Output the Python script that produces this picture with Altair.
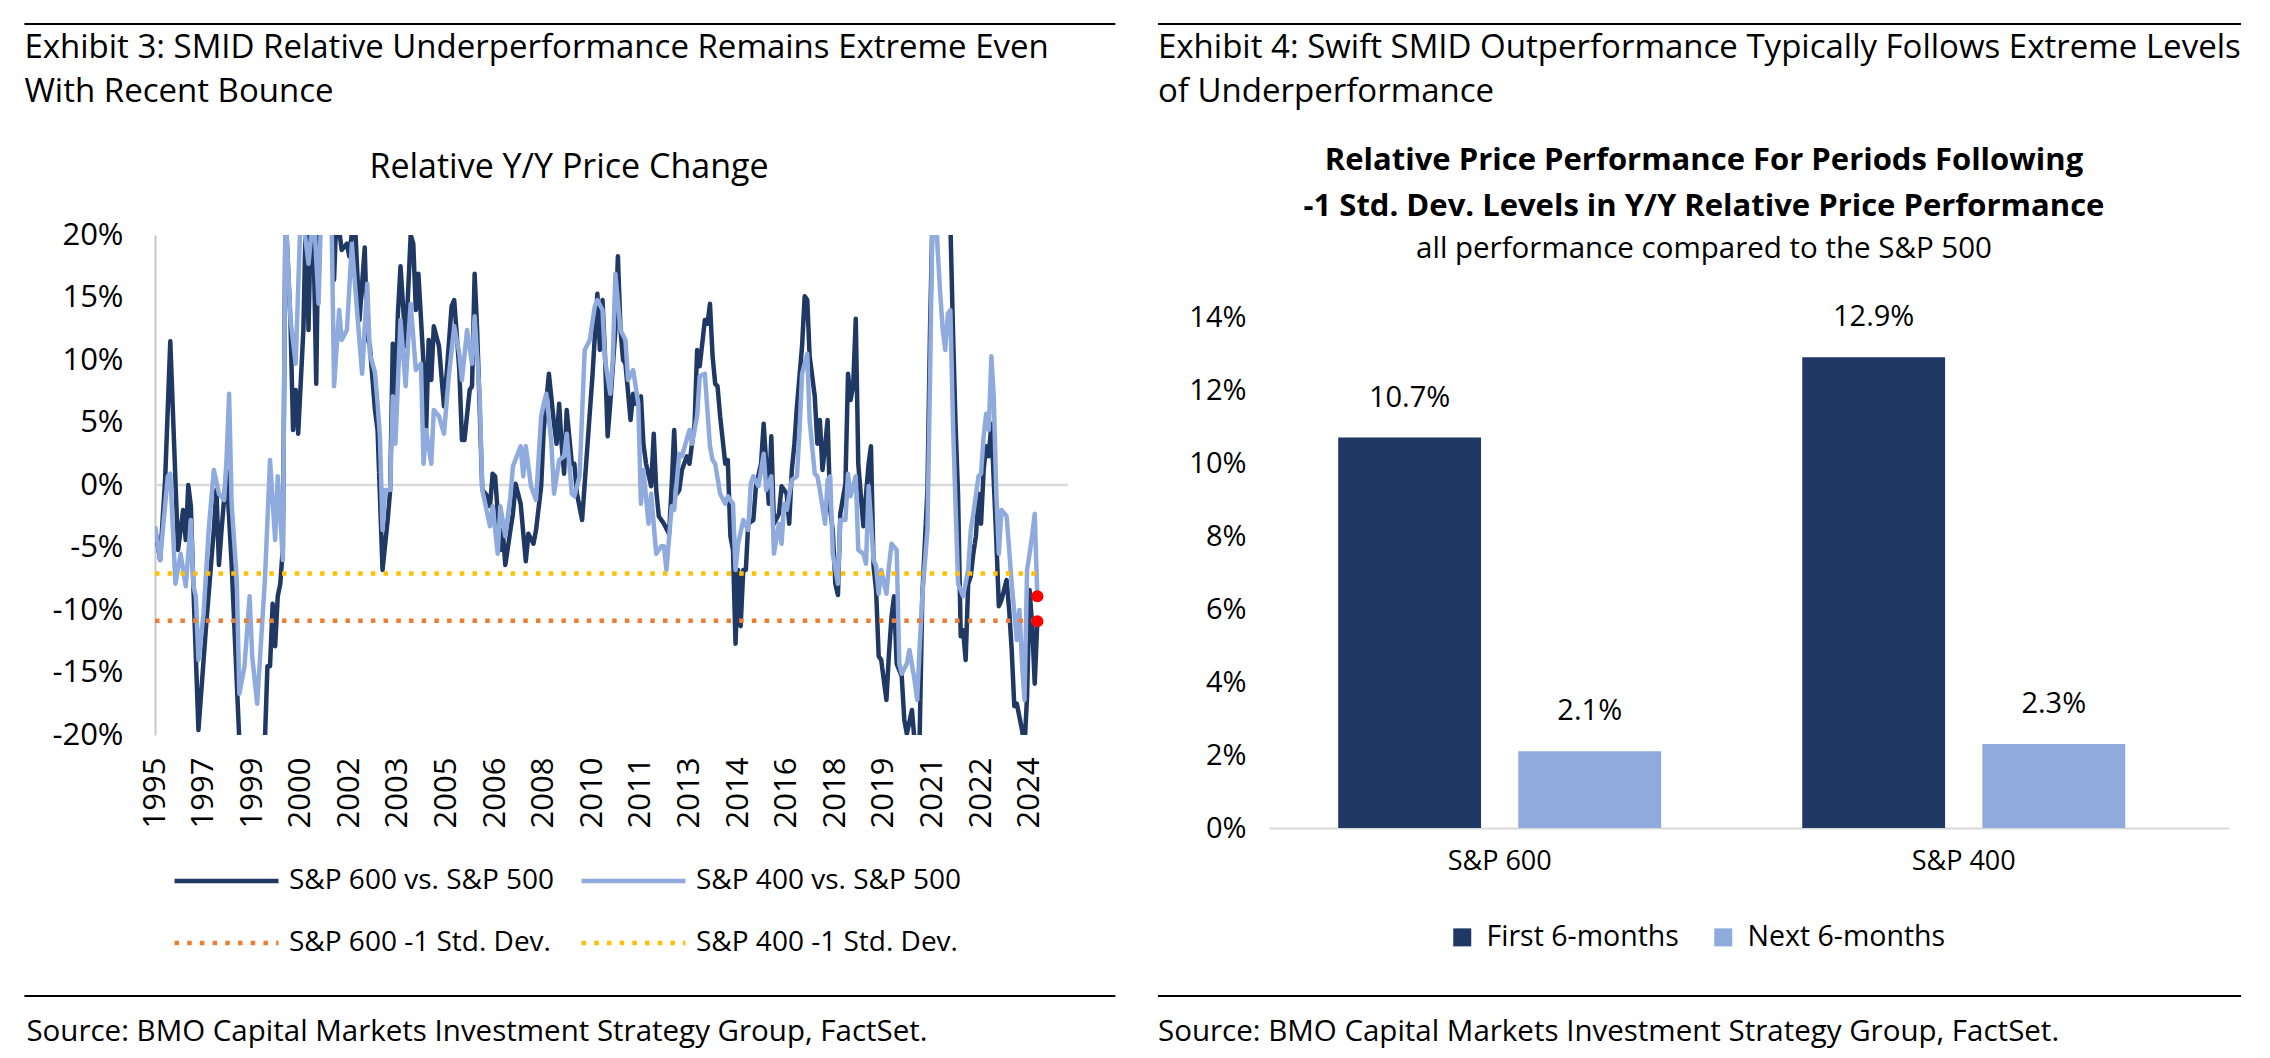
import altair as alt
import pandas as pd

FONT = "Open Sans"

# ---------------- Exhibit 3 data (relative Y/Y price change, %) ----------------
SERIES_NAMES = ["S&P 600 vs. S&P 500", "S&P 400 vs. S&P 500",
                "S&P 600 -1 Std. Dev.", "S&P 400 -1 Std. Dev."]
SERIES_COLORS = ["#1F3864", "#8FAADC", "#ED7D31", "#FFC000"]

S600 = [
    ("1995-11", -3.5), ("1996-01", -6.0), ("1996-03", 0.5), ("1996-05", 11.5),
    ("1996-08", -5.2), ("1996-10", -2.0), ("1996-11", -4.4), ("1996-12", 0.0),
    ("1997-01", -1.7), ("1997-02", -8.4), ("1997-04", -19.6), ("1997-07", -11.3),
    ("1997-10", -3.6), ("1997-11", -0.4), ("1997-12", -6.4), ("1998-01", -3.6),
    ("1998-03", 1.2), ("1998-05", -6.3), ("1998-08", -20.5), ("1998-11", -24.0),
    ("1999-03", -24.0), ("1999-06", -20.5), ("1999-07", -14.5), ("1999-08", -14.5),
    ("1999-09", -9.5), ("1999-10", -12.9), ("1999-11", -8.9), ("1999-12", -7.9),
    ("2000-01", -5.0), ("2000-02", 22.0), ("2000-04", 12.9), ("2000-05", 4.4),
    ("2000-06", 7.6), ("2000-07", 4.1), ("2000-09", 12.4), ("2000-10", 22.0),
    ("2000-11", 12.4), ("2000-12", 22.0), ("2001-01", 19.3), ("2001-02", 8.1),
    ("2001-03", 22.0), ("2001-08", 22.0), ("2001-09", 16.4), ("2001-10", 22.0),
    ("2001-12", 18.8), ("2002-02", 19.3), ("2002-03", 18.3), ("2002-05", 22.0),
    ("2002-07", 13.2), ("2002-09", 19.0), ("2002-10", 11.9), ("2002-11", 11.1),
    ("2003-01", 6.0), ("2003-02", 4.4), ("2003-03", -0.9), ("2003-04", -6.8),
    ("2003-06", -2.8), ("2003-07", -0.4), ("2003-08", 11.3), ("2003-09", 7.1),
    ("2003-10", 13.7), ("2003-11", 17.5), ("2004-01", 11.1), ("2004-03", 20.0),
    ("2004-04", 19.3), ("2004-05", 14.0), ("2004-06", 16.9), ("2004-08", 9.7),
    ("2004-09", 4.4), ("2004-10", 11.6), ("2004-11", 8.4), ("2004-12", 12.7),
    ("2005-02", 11.1), ("2005-04", 6.3), ("2005-05", 8.7), ("2005-07", 14.3),
    ("2005-08", 14.8), ("2005-10", 9.2), ("2005-11", 3.6), ("2005-12", 3.6),
    ("2006-02", 7.6), ("2006-03", 7.9), ("2006-04", 16.9), ("2006-05", 12.4),
    ("2006-07", -0.4), ("2006-09", -0.9), ("2006-10", -1.7), ("2006-11", 0.9),
    ("2006-12", 0.7), ("2007-02", -5.2), ("2007-03", -3.6), ("2007-04", -6.4),
    ("2007-06", -3.6), ("2007-07", -2.3), ("2007-08", 0.1), ("2007-10", -1.5),
    ("2007-12", -6.1), ("2008-01", -3.9), ("2008-03", -4.7), ("2008-04", -3.6),
    ("2008-06", -0.1), ("2008-07", 4.4), ("2008-09", 8.9), ("2008-11", 4.9),
    ("2008-12", 3.3), ("2009-01", 6.5), ("2009-02", 3.1), ("2009-03", 0.9),
    ("2009-04", 6.0), ("2009-06", 1.7), ("2009-07", 1.7), ("2009-08", -0.7),
    ("2009-10", -2.8), ("2009-11", 0.1), ("2010-02", 8.7), ("2010-04", 15.3),
    ("2010-05", 10.8), ("2010-06", 14.8), ("2010-07", 10.3), ("2010-08", 3.9),
    ("2010-09", 6.5), ("2010-11", 12.4), ("2010-12", 18.3), ("2011-01", 12.4),
    ("2011-02", 10.0), ("2011-03", 9.7), ("2011-05", 5.2), ("2011-06", 7.3),
    ("2011-07", 6.5), ("2011-09", 7.1), ("2011-10", 3.3), ("2011-11", 1.7),
    ("2012-01", -0.1), ("2012-02", 4.1), ("2012-03", -0.4), ("2012-04", -2.5),
    ("2012-06", -3.1), ("2012-08", -3.9), ("2012-09", -0.1), ("2012-10", 4.4),
    ("2012-11", -0.7), ("2012-12", -0.4), ("2013-01", 1.2), ("2013-03", 2.3),
    ("2013-04", 1.7), ("2013-06", 4.9), ("2013-07", 10.8), ("2013-08", 9.5),
    ("2013-10", 13.2), ("2013-11", 12.9), ("2013-12", 14.5), ("2014-01", 10.3),
    ("2014-02", 8.1), ("2014-03", 7.9), ("2014-04", 5.5), ("2014-06", 1.7),
    ("2014-07", 2.0), ("2014-08", -4.1), ("2014-09", -5.2), ("2014-10", -12.7),
    ("2014-11", -6.8), ("2014-12", -11.3), ("2015-01", -6.8), ("2015-02", -6.8),
    ("2015-03", -3.1), ("2015-05", -2.8), ("2015-06", -0.1), ("2015-08", 1.7),
    ("2015-09", 4.9), ("2015-11", -1.5), ("2015-12", 3.9), ("2016-01", -3.1),
    ("2016-03", -2.3), ("2016-04", -0.1), ("2016-06", -0.7), ("2016-07", -3.1),
    ("2016-08", 1.2), ("2016-09", 3.3), ("2016-10", 6.3), ("2016-12", 11.1),
    ("2017-01", 15.1), ("2017-02", 14.8), ("2017-03", 10.3), ("2017-05", 7.1),
    ("2017-06", 3.3), ("2017-07", 5.2), ("2017-08", 1.2), ("2017-09", 3.1),
    ("2017-10", 5.2), ("2017-11", -2.0), ("2017-12", -3.6), ("2018-01", -7.9),
    ("2018-02", -8.8), ("2018-03", -2.3), ("2018-05", 0.1), ("2018-06", 8.9),
    ("2018-07", 6.8), ("2018-08", 7.9), ("2018-09", 13.3), ("2018-10", 1.7),
    ("2018-11", -0.9), ("2018-12", -3.3), ("2019-02", 1.7), ("2019-03", 3.1),
    ("2019-04", -6.5), ("2019-05", -8.4), ("2019-06", -13.7), ("2019-07", -14.0),
    ("2019-09", -17.2), ("2019-10", -13.5), ("2019-11", -10.5), ("2019-12", -8.9),
    ("2020-01", -14.3), ("2020-03", -15.3), ("2020-04", -18.8), ("2020-05", -19.9),
    ("2020-07", -18.0), ("2020-08", -20.5), ("2020-09", -22.0), ("2020-10", -20.0),
    ("2020-11", -8.9), ("2021-01", -0.4), ("2021-02", 12.4), ("2021-03", 21.0),
    ("2021-05", 30.0), ("2021-09", 30.0), ("2021-10", 21.0), ("2021-11", 12.4),
    ("2021-12", 5.0), ("2022-01", -0.9), ("2022-02", -12.1), ("2022-03", -11.6),
    ("2022-04", -14.0), ("2022-05", -7.9), ("2022-06", -7.3), ("2022-07", -5.5),
    ("2022-08", -4.1), ("2022-09", -0.7), ("2022-10", -3.1), ("2022-11", 1.2),
    ("2022-12", 3.1), ("2023-01", 2.3), ("2023-02", 4.9), ("2023-03", 0.4),
    ("2023-04", -4.4), ("2023-05", -9.7), ("2023-06", -9.2), ("2023-08", -7.6),
    ("2023-09", -10.0), ("2023-10", -13.2), ("2023-11", -17.7), ("2023-12", -17.5),
    ("2024-02", -19.6), ("2024-03", -21.0), ("2024-04", -16.9), ("2024-05", -8.4),
    ("2024-06", -11.3), ("2024-07", -15.9), ("2024-08", -10.9),
]

S400 = [
    ("1995-11", -3.3), ("1996-01", -6.0), ("1996-04", 0.7), ("1996-05", 0.9),
    ("1996-07", -7.9), ("1996-09", -5.5), ("1996-11", -8.1), ("1997-01", -2.8),
    ("1997-02", -8.1), ("1997-03", -8.9), ("1997-04", -14.0), ("1997-06", -10.3),
    ("1997-08", -3.6), ("1997-10", 1.2), ("1997-12", -0.7), ("1998-02", -1.2),
    ("1998-03", 2.0), ("1998-04", 7.3), ("1998-05", -1.5), ("1998-07", -7.6),
    ("1998-08", -16.7), ("1998-10", -14.5), ("1998-12", -8.9), ("1999-01", -13.7),
    ("1999-03", -17.5), ("1999-06", -7.6), ("1999-08", 2.0), ("1999-10", -4.4),
    ("1999-11", 0.7), ("2000-01", -6.0), ("2000-02", 22.0), ("2000-04", 13.2),
    ("2000-06", 9.7), ("2000-08", 22.0), ("2000-09", 21.0), ("2000-11", 17.7),
    ("2001-01", 22.0), ("2001-03", 14.5), ("2001-04", 22.0), ("2001-08", 22.0),
    ("2001-09", 7.9), ("2001-11", 14.0), ("2001-12", 11.6), ("2002-02", 12.4),
    ("2002-04", 19.3), ("2002-06", 14.0), ("2002-08", 8.9), ("2002-10", 16.1),
    ("2002-11", 10.5), ("2003-01", 9.0), ("2003-02", 6.5), ("2003-03", 3.9),
    ("2003-04", -3.6), ("2003-05", -0.4), ("2003-07", -0.4), ("2003-08", 7.1),
    ("2003-09", 3.3), ("2003-11", 13.2), ("2004-01", 7.9), ("2004-02", 11.6),
    ("2004-03", 14.5), ("2004-05", 9.2), ("2004-07", 9.7), ("2004-08", 1.7),
    ("2004-09", 4.4), ("2004-11", 1.7), ("2004-12", 6.0), ("2005-02", 5.5),
    ("2005-04", 4.1), ("2005-06", 8.9), ("2005-08", 12.7), ("2005-10", 10.5),
    ("2005-11", 8.4), ("2006-01", 12.4), ("2006-03", 9.7), ("2006-04", 13.5),
    ("2006-06", 7.1), ("2006-07", -0.4), ("2006-10", -3.3), ("2006-11", -1.7),
    ("2007-01", -5.5), ("2007-02", -1.7), ("2007-04", -4.1), ("2007-06", -0.9),
    ("2007-07", 1.5), ("2007-10", 3.1), ("2007-11", 0.7), ("2007-12", 3.1),
    ("2008-02", -0.1), ("2008-04", -1.2), ("2008-06", 5.5), ("2008-07", 6.5),
    ("2008-08", 7.3), ("2008-10", 3.3), ("2008-11", -0.7), ("2009-01", 2.0),
    ("2009-03", 2.3), ("2009-04", 4.1), ("2009-06", -0.7), ("2009-07", -0.9),
    ("2009-09", 0.7), ("2009-11", 10.8), ("2010-01", 11.6), ("2010-03", 14.3),
    ("2010-04", 14.8), ("2010-06", 14.0), ("2010-07", 10.0), ("2010-09", 7.3),
    ("2010-10", 10.0), ("2010-11", 16.9), ("2011-01", 12.4), ("2011-03", 11.6),
    ("2011-04", 8.4), ("2011-06", 9.2), ("2011-08", 6.5), ("2011-09", -1.5),
    ("2011-10", 1.2), ("2011-12", -3.1), ("2012-01", -0.7), ("2012-03", -5.5),
    ("2012-05", -4.9), ("2012-06", -4.9), ("2012-07", -6.8), ("2012-09", -1.7),
    ("2012-10", -2.0), ("2012-12", 2.5), ("2013-01", 2.3), ("2013-04", 4.4),
    ("2013-05", 3.3), ("2013-07", 5.5), ("2013-08", 8.7), ("2013-10", 8.9),
    ("2013-12", 3.1), ("2014-01", 2.0), ("2014-02", 1.7), ("2014-04", -0.7),
    ("2014-06", -1.5), ("2014-07", -0.9), ("2014-09", -1.5), ("2014-10", -6.8),
    ("2014-11", -4.7), ("2015-01", -2.8), ("2015-03", -3.6), ("2015-04", 0.1),
    ("2015-05", 0.7), ("2015-07", -0.1), ("2015-09", 2.5), ("2015-10", -0.4),
    ("2015-12", 0.7), ("2016-01", -5.5), ("2016-03", -3.1), ("2016-04", -4.7),
    ("2016-05", -1.5), ("2016-06", -2.0), ("2016-08", 0.4), ("2016-10", 0.7),
    ("2016-11", 4.4), ("2016-12", 8.9), ("2017-02", 10.5), ("2017-03", 5.2),
    ("2017-05", 0.9), ("2017-06", 0.7), ("2017-07", -0.4), ("2017-09", -3.1),
    ("2017-10", 0.4), ("2017-11", 0.7), ("2017-12", -5.5), ("2018-02", -7.9),
    ("2018-03", -2.8), ("2018-05", -2.8), ("2018-06", 0.9), ("2018-07", -0.9),
    ("2018-09", 0.7), ("2018-10", -5.2), ("2018-12", -5.5), ("2019-01", -6.3),
    ("2019-02", -0.1), ("2019-04", -6.0), ("2019-05", -6.5), ("2019-06", -8.7),
    ("2019-07", -6.8), ("2019-09", -8.7), ("2019-10", -6.5), ("2019-11", -4.7),
    ("2020-01", -5.2), ("2020-02", -14.3), ("2020-03", -15.1), ("2020-05", -14.3),
    ("2020-06", -13.2), ("2020-08", -15.6), ("2020-09", -17.2), ("2020-10", -12.9),
    ("2020-11", -8.9), ("2021-01", -3.6), ("2021-02", 8.4), ("2021-03", 21.0),
    ("2021-04", 25.0), ("2021-05", 19.0), ("2021-06", 15.5), ("2021-07", 12.5),
    ("2021-08", 10.8), ("2021-09", 13.7), ("2021-10", 14.0), ("2021-11", 5.0),
    ("2021-12", -1.5), ("2022-01", -7.9), ("2022-02", -8.4), ("2022-03", -8.9),
    ("2022-05", -6.8), ("2022-06", -3.6), ("2022-07", -2.3), ("2022-09", 0.7),
    ("2022-10", 0.9), ("2022-11", 3.9), ("2022-12", 5.7), ("2023-01", 4.4),
    ("2023-02", 10.3), ("2023-03", 7.1), ("2023-04", -0.7), ("2023-05", -5.5),
    ("2023-06", -2.0), ("2023-08", -2.5), ("2023-09", -5.2), ("2023-10", -7.9),
    ("2023-12", -12.4), ("2024-01", -10.0), ("2024-02", -14.3), ("2024-03", -17.2),
    ("2024-04", -6.8), ("2024-05", -5.5), ("2024-06", -4.0), ("2024-07", -2.3),
    ("2024-08", -8.9),
]

STD_DEV_600 = -10.85
STD_DEV_400 = -7.07

Y_TICKS = [-20, -15, -10, -5, 0, 5, 10, 15, 20]
X_TICK_MONTHS = [(1995, 11), (1997, 6), (1999, 1), (2000, 8), (2002, 3), (2003, 10),
                 (2005, 5), (2006, 12), (2008, 7), (2010, 2), (2011, 9), (2013, 4),
                 (2014, 11), (2016, 6), (2018, 1), (2019, 8), (2021, 3), (2022, 10),
                 (2024, 5)]
X_AXIS_START = (1995, 11)
X_AXIS_END = (2025, 8)

# ---------------- Exhibit 4 data ----------------
BAR_CATEGORIES = ["S&P 600", "S&P 400"]
BAR_PERIODS = ["First 6-months", "Next 6-months"]
BAR_COLORS = ["#1F3864", "#8FAADC"]
BAR_FIRST = [10.7, 12.9]
BAR_NEXT = [2.1, 2.3]
BAR_TICKS = [0, 2, 4, 6, 8, 10, 12, 14]

# ---------------- texts ----------------
EX3_TITLE = ["Exhibit 3: SMID Relative Underperformance Remains Extreme Even",
             "With Recent Bounce"]
EX3_CHART_TITLE = "Relative Y/Y Price Change"
EX4_TITLE = ["Exhibit 4: Swift SMID Outperformance Typically Follows Extreme Levels",
             "of Underperformance"]
EX4_CHART_TITLE = ["Relative Price Performance For Periods Following",
                   "-1 Std. Dev. Levels in Y/Y Relative Price Performance"]
EX4_SUBTITLE = "all performance compared to the S&P 500"
SOURCE = "Source: BMO Capital Markets Investment Strategy Group, FactSet."

# ================= build tables =================
def to_frame(pairs, name):
    return pd.DataFrame({"date": [d + "-15" for d, _ in pairs],
                         "value": [v for _, v in pairs],
                         "series": name})

df600 = to_frame(S600, SERIES_NAMES[0])
df400 = to_frame(S400, SERIES_NAMES[1])
df_std = pd.DataFrame({
    "series": [SERIES_NAMES[2], SERIES_NAMES[3]],
    "value": [STD_DEV_600, STD_DEV_400],
    "start": [S600[0][0] + "-15", S400[0][0] + "-15"],
    "end": [S600[-1][0] + "-15", S400[-1][0] + "-15"],
})
df_last = pd.concat([df600.tail(1), df400.tail(1)])
df_zero = pd.DataFrame({"value": [0]})

LW, LH = 913, 500     # left plot area
RW, RH = 960, 593     # right plot area
TEXT = "#000000"
TITLE_SIZE = 33
SOURCE_SIZE = 29.5
W = 500               # medium weight for the text

x_scale = alt.Scale(domain=[alt.DateTime(year=X_AXIS_START[0], month=X_AXIS_START[1], date=15),
                            alt.DateTime(year=X_AXIS_END[0], month=X_AXIS_END[1], date=15)])
y_scale = alt.Scale(domain=[-20, 20], nice=False, zero=False)
x_axis = alt.Axis(values=[alt.DateTime(year=y, month=m, date=15) for y, m in X_TICK_MONTHS],
                  format="%Y", labelAngle=270, domain=False, ticks=False, grid=False,
                  labelPadding=22, labelFontSize=31, labelFontWeight=W, labelColor=TEXT,
                  labelFlush=False, labelOverlap=False, labelBound=False, orient="bottom")
y_axis = alt.Axis(values=Y_TICKS, labelExpr="datum.value + '%'", domain=True,
                  domainColor="#C8C8C8", domainWidth=2, ticks=False, grid=False,
                  labelPadding=32, labelFontSize=31, labelFontWeight=W, labelColor=TEXT,
                  labelFlush=False, orient="left")
left_legend = alt.Legend(title=None, orient="none", legendX=17, legendY=630,
                         direction="horizontal", columns=2, symbolType="stroke",
                         symbolSize=10816, symbolStrokeWidth=4.5, clipHeight=32,
                         labelFontSize=28, labelFontWeight=W, labelOffset=8, columnPadding=24,
                         rowPadding=30, labelLimit=900, padding=0, labelColor=TEXT)
color_enc = alt.Color("series:N", scale=alt.Scale(domain=SERIES_NAMES, range=SERIES_COLORS),
                      legend=left_legend)
dash_enc = alt.StrokeDash("series:N",
                          scale=alt.Scale(domain=SERIES_NAMES,
                                          range=[[1, 0], [1, 0], [4.5, 8.2], [4.5, 8.2]]),
                          legend=left_legend)

def xenc(field):
    return alt.X(field, type="temporal", scale=x_scale, axis=x_axis, title=None)

def yenc(field="value"):
    return alt.Y(field, type="quantitative", scale=y_scale, axis=y_axis, title=None)

zero_line = alt.Chart(df_zero).mark_rule(color="#D9D9D9", strokeWidth=2.5).encode(y=yenc())

line600 = alt.Chart(df600).mark_line(strokeWidth=4.5, clip=True, strokeJoin="round").encode(
    x=xenc("date"), y=yenc(), color=color_enc, strokeDash=dash_enc)
line400 = alt.Chart(df400).mark_line(strokeWidth=4.5, clip=True, strokeJoin="round").encode(
    x=xenc("date"), y=yenc(), color=color_enc, strokeDash=dash_enc)
std_rules = alt.Chart(df_std).mark_rule(strokeWidth=4.5).encode(
    x=xenc("start"), x2="end:T", y=yenc(), color=color_enc, strokeDash=dash_enc)
last_pts = alt.Chart(df_last).mark_circle(color="#FF0000", opacity=1, size=150).encode(
    x=xenc("date"), y=yenc())


def text_layer(txt, x, y, size, align="left", weight=W, baseline="alphabetic"):
    return alt.Chart(pd.DataFrame({"t": [txt]})).mark_text(
        align=align, baseline=baseline, fontSize=size, fontWeight=weight, color=TEXT,
        font=FONT).encode(x=alt.value(x), y=alt.value(y), text="t:N")


def hrule(x1, x2, y):
    return alt.Chart(pd.DataFrame({"a": [0]})).mark_rule(color="#000000", strokeWidth=2).encode(
        x=alt.value(x1), x2=alt.value(x2), y=alt.value(y))


left = alt.layer(
    zero_line, line600, line400, std_rules, last_pts,
    hrule(-130.6, 960.4, -211),
    text_layer(EX3_TITLE[0], -130.6, -177, TITLE_SIZE),
    text_layer(EX3_TITLE[1], -130.6, -133, TITLE_SIZE),
    text_layer(EX3_CHART_TITLE, 414, -67, 34, align="center", baseline="middle"),
    hrule(-130.6, 960.4, 761),
    text_layer(SOURCE, -128.6, 806, SOURCE_SIZE),
).properties(width=LW, height=LH)

# ---------------- right panel ----------------
df_bars = pd.DataFrame({
    "category": BAR_CATEGORIES * 2,
    "period": [BAR_PERIODS[0]] * 2 + [BAR_PERIODS[1]] * 2,
    "value": BAR_FIRST + BAR_NEXT,
})

bx = alt.X("category:N", sort=BAR_CATEGORIES,
           scale=alt.Scale(paddingInner=0.304, paddingOuter=0.1864, align=0.40),
           axis=alt.Axis(labelAngle=0, domainColor="#D9D9D9", domainWidth=2, ticks=False,
                         grid=False, labelPadding=20, labelFontSize=27, labelFontWeight=W,
                         labelColor=TEXT),
           title=None)
bxo = alt.XOffset("period:N", sort=BAR_PERIODS, scale=alt.Scale(paddingInner=0.207))
by = alt.Y("value:Q", scale=alt.Scale(domain=[0, 16.25], nice=False),
           axis=alt.Axis(values=BAR_TICKS, labelExpr="datum.value + '%'", domain=False,
                         ticks=False, grid=False, labelPadding=23, labelFontSize=29,
                         labelFontWeight=W, labelColor=TEXT),
           title=None)
bcolor = alt.Color("period:N", sort=BAR_PERIODS,
                   scale=alt.Scale(domain=BAR_PERIODS, range=BAR_COLORS),
                   legend=alt.Legend(title=None, orient="none", legendX=179, legendY=688,
                                     direction="horizontal", symbolType="square",
                                     symbolSize=324, symbolStrokeWidth=0, labelFontSize=28.5,
                                     labelFontWeight=W, labelOffset=10, columnPadding=30,
                                     padding=0, labelColor=TEXT, labelLimit=600))

bars = alt.Chart(df_bars).mark_bar().encode(x=bx, xOffset=bxo, y=by, color=bcolor)
bar_labels = alt.Chart(df_bars).transform_calculate(
    label="format(datum.value, '.1f') + '%'"
).mark_text(fontSize=29, fontWeight=W, baseline="middle", dy=-40, color=TEXT, font=FONT).encode(
    x=bx, xOffset=bxo, y=by, text="label:N")

right = alt.layer(
    bars, bar_labels,
    hrule(-111, 972, -211),
    text_layer(EX4_TITLE[0], -111, -177, TITLE_SIZE),
    text_layer(EX4_TITLE[1], -111, -133, TITLE_SIZE),
    text_layer(EX4_CHART_TITLE[0], 435, -74, 31, align="center", weight="bold", baseline="middle"),
    text_layer(EX4_CHART_TITLE[1], 435, -28, 31, align="center", weight="bold", baseline="middle"),
    text_layer(EX4_SUBTITLE, 435, 14, 29.5, align="center", baseline="middle"),
    hrule(-111, 972, 761),
    text_layer(SOURCE, -111, 806, SOURCE_SIZE),
).properties(width=RW, height=RH)

chart = alt.hconcat(left, right, spacing=201, bounds="flush").resolve_scale(
    color="independent", strokeDash="independent"
).resolve_legend(
    color="independent", strokeDash="independent"
).properties(
    padding={"left": 15, "top": 15, "right": 0, "bottom": 12}
).configure(font=FONT).configure_view(strokeWidth=0)

chart.save("out.html", embed_options={"renderer": "svg", "actions": False})
